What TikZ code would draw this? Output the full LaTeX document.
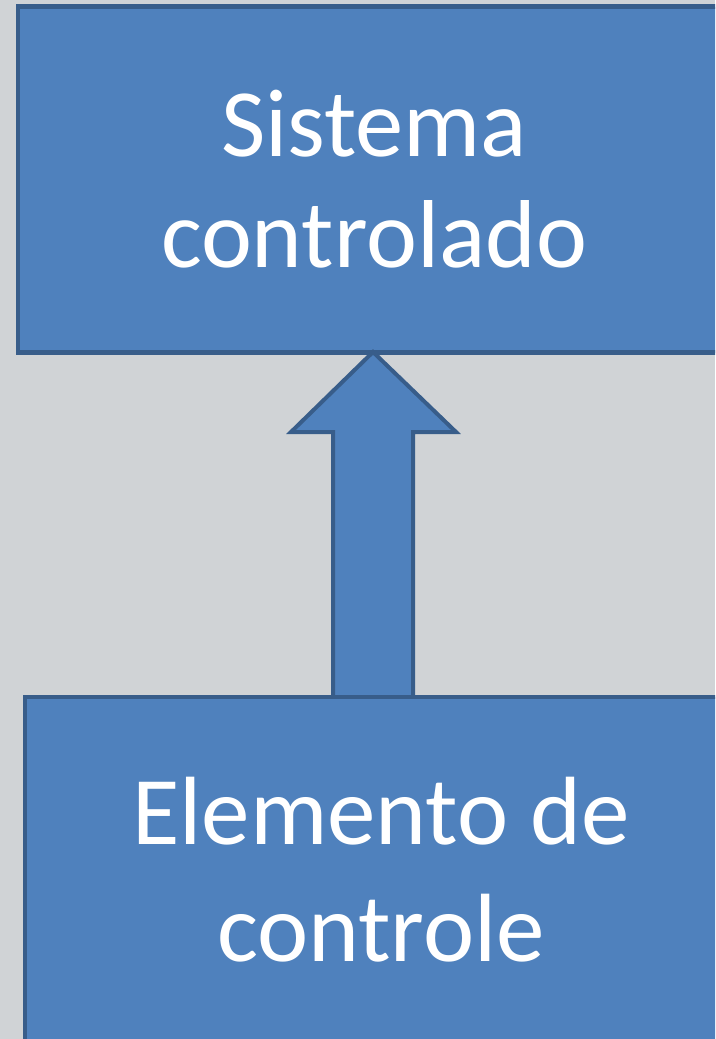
\documentclass[tikz,border=0pt]{standalone}
\usepackage{fontspec}
\setmainfont{Carlito}
\usetikzlibrary{calc}
\definecolor{bg}{HTML}{D0D3D6}
\definecolor{boxfill}{HTML}{4F81BD}
\definecolor{boxline}{HTML}{385D8A}
\begin{document}
\begin{tikzpicture}[x=1pt,y=-1pt,
  blockbox/.style={draw=boxline, fill=boxfill, line width=4.5pt, text=white,
    align=center, inner sep=0pt, minimum width=712pt, minimum height=346pt},
  bigarrow/.style={draw=boxline, fill=boxfill, line width=4pt, line join=miter}]
\path[use as bounding box, fill=bg] (0,0) rectangle (715,1039);
\begin{scope}
\clip (0,0) rectangle (715,1039);
\node[blockbox, font=\fontsize{96.5}{111}\selectfont] (sys) at (374,179.5) {Sistema\\controlado};
\coordinate (tip) at (373,352);
\coordinate (base) at (373,700);
\draw[bigarrow] (tip) -- ($(tip)+(-82,80)$) -- ($(tip)+(-40,80)$) -- ($(base)+(-40,0)$) -- ($(base)+(40,0)$) -- ($(tip)+(40,80)$) -- ($(tip)+(83,80)$) -- cycle;
\node[blockbox, font=\fontsize{97}{117}\selectfont] (ctl) at (381,870) {Elemento de\\controle};
\end{scope}
\end{tikzpicture}
\end{document}
